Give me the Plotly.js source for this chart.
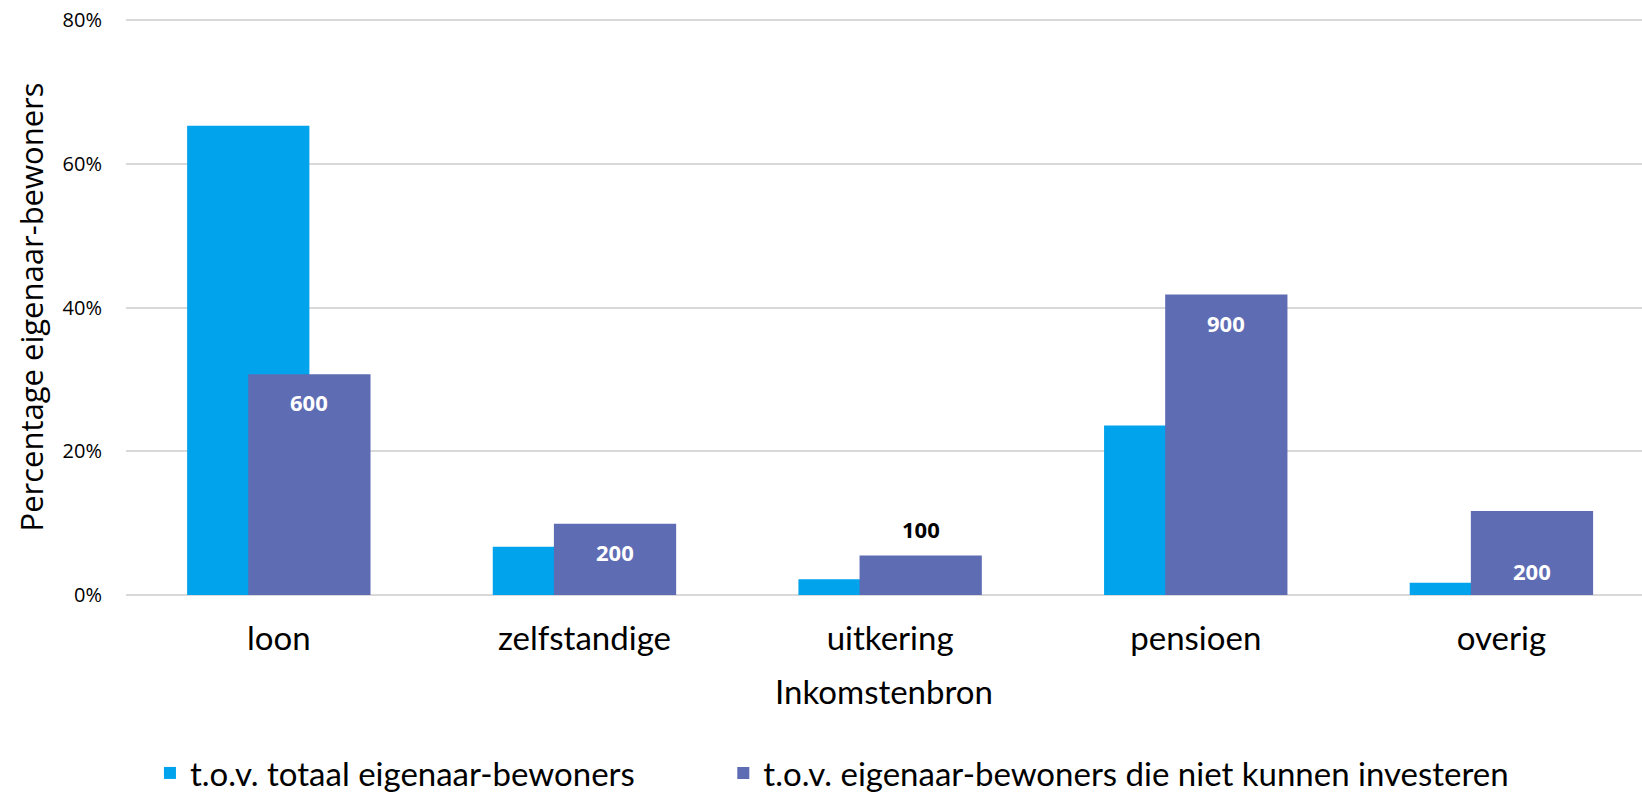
<!DOCTYPE html>
<html>
<head>
<meta charset="utf-8">
<script src="https://cdn.plot.ly/plotly-3.0.1.min.js"></script>
<style>html,body{margin:0;padding:0;background:#fff;}#chart{width:1642px;height:792px;}</style>
</head>
<body>
<div id="chart"></div>
<script>
const categories = ['loon', 'zelfstandige', 'uitkering', 'pensioen', 'overig'];
const totaalPct = [65.3, 6.7, 2.2, 23.6, 1.7];
const nietInvesterenPct = [30.7, 9.9, 5.5, 41.8, 11.7];
const nietInvesterenLabels = ['600', '200', '100', '900', '200'];
const yTickVals = [0, 20, 40, 60, 80];
const yTickText = ['0%', '20%', '40%', '60%', '80%'];
const seriesNames = ['t.o.v. totaal eigenaar-bewoners', 't.o.v. eigenaar-bewoners die niet kunnen investeren'];

// label styling / placement (not data)
const labelInside = [true, true, false, true, true];
const labelShift = [-28, -28, 26, -28, -60];

const FONT = 'Open Sans, Noto Sans, sans-serif';
const FONT2 = 'Lato, Open Sans, sans-serif';
const C1 = '#00a3ec';
const C2 = '#5e6cb4';

const traces = [
  {
    type: 'bar',
    name: seriesNames[0],
    x: categories,
    y: totaalPct,
    offset: -0.3,
    width: 0.4,
    marker: {color: C1},
    legend: 'legend',
    hoverinfo: 'x+y'
  },
  {
    type: 'bar',
    name: seriesNames[1],
    x: categories,
    y: nietInvesterenPct,
    offset: -0.1,
    width: 0.4,
    marker: {color: C2},
    legend: 'legend2',
    hoverinfo: 'x+y'
  }
];

const annotations = categories.map((c, i) => ({
  x: c,
  y: nietInvesterenPct[i],
  xref: 'x',
  yref: 'y',
  text: '<b>' + nietInvesterenLabels[i] + '</b>',
  showarrow: false,
  xshift: 30.6,
  yshift: labelShift[i],
  xanchor: 'center',
  yanchor: 'middle',
  font: {family: FONT, size: 22, color: labelInside[i] ? '#ffffff' : '#000000'}
}));

const legendCommon = {
  orientation: 'h',
  y: -0.309,
  xanchor: 'left',
  yanchor: 'middle',
  bgcolor: 'rgba(0,0,0,0)',
  font: {family: FONT2, size: 33, color: '#000000'}
};

const layout = {
  width: 1642,
  height: 792,
  paper_bgcolor: '#ffffff',
  plot_bgcolor: '#ffffff',
  barmode: 'overlay',
  margin: {l: 126, r: 0, t: 19, b: 197, autoexpand: false},
  font: {family: FONT, color: '#000000'},
  showlegend: true,
  legend: Object.assign({}, legendCommon, {x: 0.0158}),
  legend2: Object.assign({}, legendCommon, {x: 0.394}),
  annotations: annotations,
  xaxis: {
    type: 'category',
    range: [-0.5, 4.46],
    showgrid: false,
    zeroline: false,
    showline: false,
    ticks: 'outside',
    ticklen: 14,
    tickcolor: 'rgba(0,0,0,0)',
    tickfont: {family: FONT2, size: 33, color: '#000000'},
    title: {text: 'Inkomstenbron', font: {family: FONT2, size: 33, color: '#000000'}, standoff: 25}
  },
  yaxis: {
    range: [0, 80.15],
    tickvals: yTickVals,
    ticktext: yTickText,
    showgrid: true,
    gridcolor: '#d9d9d9',
    gridwidth: 1.5,
    zeroline: true,
    zerolinecolor: '#d9d9d9',
    zerolinewidth: 2,
    showline: false,
    ticks: 'outside',
    ticklen: 19,
    tickcolor: 'rgba(0,0,0,0)',
    tickfont: {family: FONT, size: 20, color: '#000000'},
    title: {text: 'Percentage eigenaar-bewoners', font: {family: FONT, size: 31, color: '#000000'}, standoff: 9}
  }
};

Plotly.newPlot('chart', traces, layout, {displayModeBar: false, responsive: false});
</script>
</body>
</html>
